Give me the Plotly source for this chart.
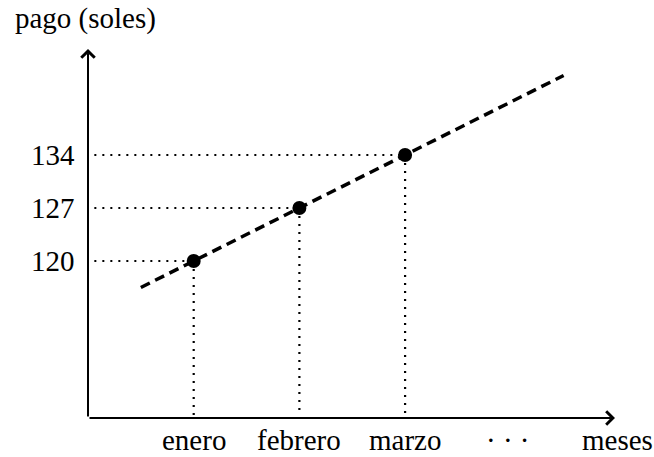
import numpy as np
import plotly.graph_objects as go

meses = ["enero", "febrero", "marzo"]
mes_x = [1, 2, 3]
pagos = [120, 127, 134]
tendencia_x = [0.5, 4.5]
y_label = "pago (soles)"
x_label = "meses"
dots_label = "· · ·"

W, H = 654, 457
# axis geometry (data units)
x0, y0 = 0.0, 99.26
x_end, y_end = 4.986, 148.0
xr = [-0.8326, 5.355]
yr = [94.11, 154.47]

slope, icpt = np.polyfit(mes_x, pagos, 1)
tend_y = [slope * t + icpt for t in tendencia_x]

font = dict(family="Liberation Serif", size=29, color="black")

fig = go.Figure()

# dotted guides
for mx, p in zip(mes_x, pagos):
    fig.add_trace(go.Scatter(x=[x0 + 0.06, mx], y=[p, p], mode="lines",
                             line=dict(color="black", width=2.2, dash="2px,6px"),
                             hoverinfo="skip", showlegend=False))
    fig.add_trace(go.Scatter(x=[mx, mx], y=[p, y0 + 0.4], mode="lines",
                             line=dict(color="black", width=2.2, dash="2px,6px"),
                             hoverinfo="skip", showlegend=False))

# dashed trend line
fig.add_trace(go.Scatter(x=tendencia_x, y=tend_y, mode="lines",
                         line=dict(color="black", width=3.5, dash="10px,6px"),
                         hoverinfo="skip", showlegend=False))

# points
fig.add_trace(go.Scatter(x=mes_x, y=pagos, mode="markers",
                         marker=dict(color="black", size=14),
                         hoverinfo="skip", showlegend=False))

# axes with arrows
fig.add_annotation(x=x_end, y=y0, ax=x0, ay=y0, xref="x", yref="y", axref="x", ayref="y",
                   showarrow=True, arrowhead=4, arrowsize=1.3, arrowwidth=2, arrowcolor="black", text="")
fig.add_annotation(x=x0, y=y_end, ax=x0, ay=y0, xref="x", yref="y", axref="x", ayref="y",
                   showarrow=True, arrowhead=4, arrowsize=1.3, arrowwidth=2, arrowcolor="black", text="")

# y tick labels
for p in pagos:
    fig.add_annotation(x=x0 - 0.1, y=p, text=str(p), showarrow=False, xanchor="right",
                       yanchor="middle", font=font)
# x tick labels
ylab = 96.36
for mx, m in zip(mes_x, meses):
    fig.add_annotation(x=mx, y=ylab, text=m, showarrow=False, xanchor="center",
                       yanchor="middle", font=font, borderpad=0)
fig.add_annotation(x=3.973, y=ylab, text=dots_label, showarrow=False, font=font, borderpad=0)
fig.add_annotation(x=5.005, y=ylab, text=x_label, showarrow=False, font=font, borderpad=0)
fig.add_annotation(x=-0.019, y=152.0, text=y_label, showarrow=False, xanchor="center", font=font)

fig.update_xaxes(range=xr, visible=False, fixedrange=True)
fig.update_yaxes(range=yr, visible=False, fixedrange=True)
fig.update_layout(width=W, height=H, margin=dict(l=0, r=0, t=0, b=0),
                  plot_bgcolor="white", paper_bgcolor="white")

fig.write_html("out.html", post_script="document.body.style.margin='0px';",
               config={"displayModeBar": False})
